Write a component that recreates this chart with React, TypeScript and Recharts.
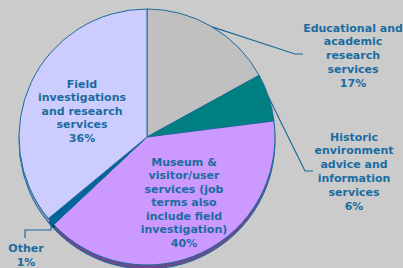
import { PieChart, Pie, Cell } from "recharts";

const categories = [
  "Educational and academic research services",
  "Historic environment advice and information services",
  "Museum & visitor/user services (job terms also include field investigation)",
  "Other",
  "Field investigations and research services",
];
const shares = [17, 6, 40, 1, 36];
const labelLines = [
  ["Educational and", "academic", "research", "services"],
  ["Historic", "environment", "advice and", "information", "services"],
  ["Museum &", "visitor/user", "services (job", "terms also", "include field", "investigation)"],
  ["Other"],
  ["Field", "investigations", "and research", "services"],
];

const fills = ["#c0c0c0", "#008080", "#cc99ff", "#006699", "#ccccff"];
const sideFills = ["#8a8a8a", "#005050", "#6b4a8e", "#003d66", "#8e8eb8"];
const TEXT = "#1b6ca0";
const LINE = "#1f6a9a";

// label placement relative to pie centre
const layout = [
  { tx: 206, ty: -109, step: 13.75, line: [[148, -83], [156, -83]] },
  { tx: 207, ty: 0, step: 13.8, line: [[158, 34], [166, 34]] },
  { tx: 37, ty: 25, step: 13.5, line: null },
  { tx: -121, ty: 111, step: 14, line: [[-96, 93], [-122, 93], [-122, 101]] },
  { tx: -65, ty: -53, step: 13.6, line: null },
];

const data = categories.map((name, i) => ({ name, value: shares[i] }));

const RAD = Math.PI / 180;

function renderLabel(props: any) {
  const { cx, cy, midAngle, outerRadius, percent, index } = props;
  const l = layout[index];
  const lines = [...labelLines[index], `${Math.round(percent * 100)}%`];
  let pts = "";
  if (l.line) {
    const ex = cx + outerRadius * Math.cos(-midAngle * RAD);
    const ey = cy + outerRadius * Math.sin(-midAngle * RAD);
    pts = [[ex, ey], ...l.line.map(([x, y]) => [cx + x, cy + y])]
      .map(([x, y]) => `${x},${y}`)
      .join(" ");
  }
  return (
    <g key={`lbl-${index}`}>
      {l.line && <polyline points={pts} fill="none" stroke={LINE} strokeWidth={1.2} />}
      <text
        x={cx + l.tx}
        y={cy + l.ty}
        textAnchor="middle"
        fill={TEXT}
        fontFamily="'DejaVu Sans', Verdana, sans-serif"
        fontWeight="bold"
        fontSize={11}
      >
        {lines.map((t, j) => (
          <tspan key={j} x={cx + l.tx} y={cy + l.ty + j * l.step} dominantBaseline="central">
            {t}
          </tspan>
        ))}
      </text>
    </g>
  );
}

export default function App() {
  return (
    <div style={{ width: 403, height: 268, background: "#cbcbcb" }}>
      <style>{`body{margin:0}`}</style>
      <PieChart width={403} height={268} margin={{ top: 0, right: 0, bottom: 0, left: 0 }}>
        <Pie
          data={data}
          dataKey="value"
          cx={147}
          cy={141}
          outerRadius={128}
          startAngle={90}
          endAngle={-270}
          stroke={LINE}
          strokeWidth={1}
          isAnimationActive={false}
        >
          {data.map((d, i) => (
            <Cell key={d.name} fill={sideFills[i]} />
          ))}
        </Pie>
        <Pie
          data={data}
          dataKey="value"
          cx={147}
          cy={137}
          outerRadius={128}
          startAngle={90}
          endAngle={-270}
          stroke={LINE}
          strokeWidth={1}
          label={renderLabel}
          labelLine={false}
          isAnimationActive={false}
        >
          {data.map((d, i) => (
            <Cell key={d.name} fill={fills[i]} />
          ))}
        </Pie>
      </PieChart>
    </div>
  );
}
